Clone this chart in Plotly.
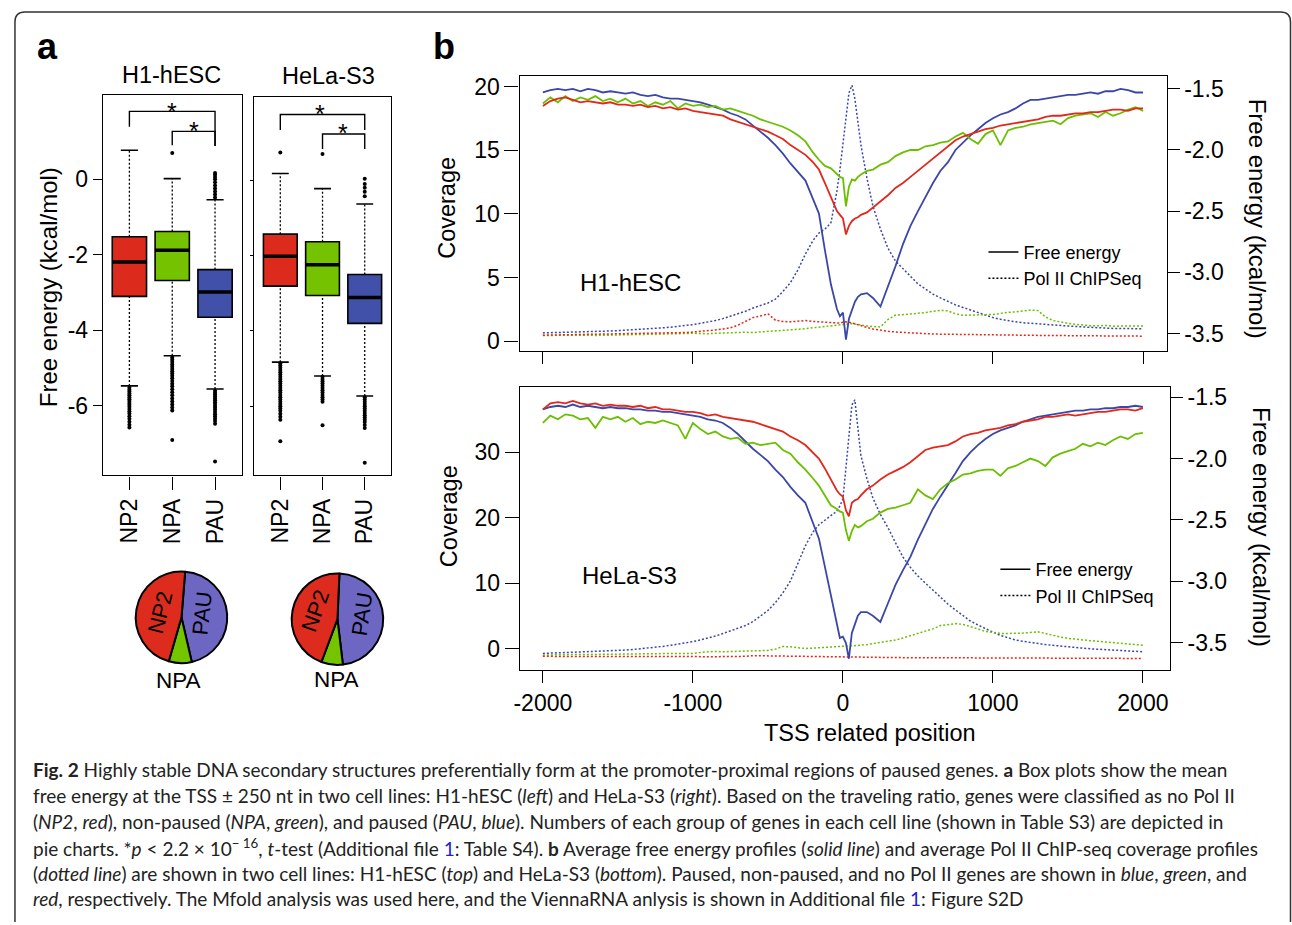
import plotly.graph_objects as go

W, H = 1292, 925
FONT = "Liberation Sans, Arial, Helvetica, sans-serif"
CAP_FONT = "Lato, Open Sans, sans-serif"

# ---------------- panel a : box plots ----------------
GROUPS = ["NP2", "NPA", "PAU"]
BOX_TICKS = [0, -2, -4, -6]
BOX_TICK_TEXT = ["0", "-2", "-4", "-6"]

H1_Q1 = [-3.10, -2.68, -3.65]
H1_MED = [-2.19, -1.88, -2.98]
H1_Q3 = [-1.52, -1.38, -2.39]
H1_WLO = [-5.47, -4.67, -5.55]
H1_WHI = [0.77, 0.02, -0.54]
H1_OUT_HI = [[], [0.70], [-0.48, -0.40, -0.32, -0.24, -0.16, -0.08, 0.00, 0.06, 0.12, 0.17]]
H1_OUT_LO = [
    [-5.52, -5.57, -5.62, -5.67, -5.72, -5.77, -5.82, -5.87, -5.92, -5.97, -6.02, -6.08, -6.14, -6.20, -6.27,
     -6.34, -6.42, -6.50, -6.57],
    [-4.72, -4.78, -4.84, -4.90, -4.96, -5.02, -5.08, -5.14, -5.20, -5.27, -5.34, -5.41, -5.48, -5.56, -5.64,
     -5.72, -5.80, -5.88, -5.96, -6.04, -6.12, -6.90],
    [-5.60, -5.65, -5.70, -5.75, -5.80, -5.85, -5.90, -5.95, -6.00, -6.05, -6.10, -6.16, -6.22, -6.28, -6.34,
     -6.40, -6.47, -7.47],
]

HELA_Q1 = [-2.81, -3.06, -3.80]
HELA_MED = [-2.02, -2.24, -3.11]
HELA_Q3 = [-1.43, -1.63, -2.50]
HELA_WLO = [-4.83, -5.20, -5.73]
HELA_WHI = [0.18, -0.22, -0.63]
HELA_OUT_HI = [[0.74], [0.70], [-0.42, -0.30, -0.20, -0.10, 0.04]]
HELA_OUT_LO = [
    [-4.86, -4.92, -4.98, -5.04, -5.10, -5.16, -5.22, -5.28, -5.34, -5.40, -5.46, -5.52, -5.58, -5.64, -5.70,
     -5.76, -5.82, -5.88, -5.94, -6.00, -6.06, -6.12, -6.20, -6.28, -6.36, -6.93],
    [-5.22, -5.28, -5.34, -5.40, -5.46, -5.52, -5.58, -5.64, -5.70, -5.76, -5.82, -5.88, -6.51],
    [-5.76, -5.82, -5.88, -5.94, -6.00, -6.06, -6.12, -6.18, -6.24, -6.30, -6.36, -6.42, -6.50, -6.58, -7.50],
]

# pie charts (percent of genes per group)
PIE_LABELS = ["PAU", "NPA", "NP2"]
H1_PIE = [45.1, 8.1, 46.8]
HELA_PIE = [47.4, 7.6, 45.0]

# ---------------- panel b : profiles ----------------
POS = [-2000, -1950, -1900, -1850, -1800, -1750, -1700, -1650, -1600, -1550,
       -1500, -1450, -1400, -1350, -1300, -1250, -1200, -1150, -1100, -1050,
       -1000, -950, -900, -850, -800, -750, -700, -650, -600, -550,
       -500, -450, -400, -350, -300,
       -250, -200, -160, -120, -80, -40, -20, 0, 20, 40, 60, 80, 100, 120, 160, 200, 250,
       300, 350, 400, 450, 500, 550, 600, 650, 700, 750, 800, 850, 900, 950,
       1000, 1050, 1100, 1150, 1200, 1250, 1300, 1350, 1400, 1450, 1500, 1550, 1600, 1650, 1700, 1750,
       1800, 1850, 1900, 1950, 2000]
POS_TICKS = [-2000, -1000, 0, 1000, 2000]
POS_TICK_TEXT = ["-2000", "-1000", "0", "1000", "2000"]
FE_TICKS = [-3.5, -3.0, -2.5, -2.0, -1.5]
FE_TICK_TEXT = ["-3.5", "-3.0", "-2.5", "-2.0", "-1.5"]
COV_TICKS_H1 = [0, 5, 10, 15, 20]
COV_TICKS_HELA = [0, 10, 20, 30]

# H1-hESC free energy (kcal/mol)
H1_FE_PAU = [-1.53, -1.51, -1.50, -1.51, -1.50, -1.52, -1.50, -1.51, -1.53, -1.52,
             -1.53, -1.54, -1.53, -1.55, -1.56, -1.55, -1.57, -1.58, -1.58, -1.59,
             -1.60, -1.61, -1.63, -1.65, -1.67, -1.70, -1.72, -1.75, -1.80, -1.85,
             -1.90, -1.96, -2.03, -2.11, -2.18,
             -2.25, -2.40, -2.52, -2.82, -3.10, -3.30, -3.36, -3.33, -3.55, -3.38, -3.30, -3.24, -3.20, -3.18,
             -3.17, -3.21, -3.28,
             -3.12, -2.95, -2.77, -2.62, -2.50, -2.38, -2.27, -2.17, -2.10, -2.00, -1.94, -1.88, -1.83, -1.78,
             -1.74, -1.71, -1.69, -1.66, -1.62, -1.59, -1.59, -1.58, -1.57, -1.56, -1.55, -1.55, -1.54, -1.53,
             -1.54, -1.52, -1.52, -1.50, -1.51, -1.53, -1.53]
H1_FE_NP2 = [-1.64, -1.60, -1.58, -1.57, -1.59, -1.61, -1.60, -1.61, -1.62, -1.61,
             -1.63, -1.63, -1.64, -1.63, -1.65, -1.64, -1.66, -1.65, -1.67, -1.66,
             -1.68, -1.69, -1.70, -1.71, -1.72, -1.75, -1.77, -1.79, -1.81, -1.83,
             -1.85, -1.88, -1.91, -1.96, -2.00,
             -2.04, -2.10, -2.16, -2.27, -2.38, -2.50, -2.53, -2.56, -2.69, -2.62, -2.58, -2.56, -2.55, -2.53,
             -2.51, -2.47, -2.42,
             -2.37, -2.31, -2.27, -2.22, -2.17, -2.12, -2.07, -2.02, -1.97, -1.92, -1.89, -1.87, -1.85, -1.83,
             -1.82, -1.80, -1.79, -1.78, -1.77, -1.76, -1.75, -1.73, -1.72, -1.72, -1.71, -1.70, -1.70, -1.69,
             -1.69, -1.68, -1.67, -1.67, -1.68, -1.66, -1.66]
H1_FE_NPA = [-1.62, -1.57, -1.61, -1.56, -1.60, -1.57, -1.59, -1.56, -1.60, -1.58,
             -1.61, -1.58, -1.62, -1.60, -1.64, -1.61, -1.63, -1.60, -1.66, -1.62,
             -1.64, -1.63, -1.65, -1.64, -1.67, -1.66, -1.68, -1.70, -1.72, -1.75,
             -1.77, -1.79, -1.81, -1.84, -1.88,
             -1.93, -2.02, -2.08, -2.13, -2.15, -2.20, -2.22, -2.23, -2.46, -2.30, -2.24, -2.25, -2.22, -2.20,
             -2.17, -2.16, -2.12,
             -2.10, -2.05, -2.02, -2.00, -2.00, -1.97, -1.96, -1.94, -1.93, -1.89, -1.86, -1.91, -1.95, -1.87,
             -1.84, -1.96, -1.84, -1.82, -1.81, -1.79, -1.78, -1.77, -1.76, -1.79, -1.74, -1.72, -1.71, -1.70,
             -1.73, -1.69, -1.72, -1.70, -1.67, -1.65, -1.68]
# H1-hESC Pol II ChIP-seq coverage
H1_COV_PAU = [0.65, 0.66, 0.68, 0.70, 0.71, 0.72, 0.74, 0.76, 0.78, 0.80,
              0.83, 0.86, 0.88, 0.90, 0.95, 1.00, 1.05, 1.10, 1.15, 1.22,
              1.30, 1.40, 1.50, 1.62, 1.77, 1.95, 2.15, 2.35, 2.60, 2.80,
              3.00, 3.30, 3.90, 4.60, 5.60,
              6.85, 7.90, 8.50, 8.80, 9.30, 11.8, 13.5, 15.4, 17.6, 19.5, 20.1, 19.0, 17.2, 15.4,
              12.8, 10.6, 8.8,
              7.3, 6.3, 5.7, 5.1, 4.5, 4.1, 3.7, 3.4, 3.1, 2.85, 2.65, 2.45, 2.2, 2.0,
              1.85, 1.72, 1.60, 1.52, 1.45, 1.40, 1.38, 1.35, 1.30, 1.25, 1.20, 1.15, 1.12, 1.08,
              1.05, 1.03, 1.00, 1.00, 0.98, 0.97, 0.97]
H1_COV_NP2 = [0.47, 0.48, 0.49, 0.50, 0.52, 0.50, 0.52, 0.53, 0.52, 0.55,
              0.56, 0.55, 0.57, 0.58, 0.60, 0.60, 0.62, 0.64, 0.66, 0.68,
              0.72, 0.76, 0.80, 0.88, 0.95, 1.05, 1.25, 1.55, 1.85, 1.98,
              2.15, 1.65, 1.55, 1.52, 1.58,
              1.62, 1.55, 1.52, 1.48, 1.42, 1.38, 1.42, 1.48, 1.52, 1.50, 1.42, 1.35, 1.28, 1.20,
              1.08, 0.95, 0.85,
              0.78, 0.72, 0.68, 0.63, 0.60, 0.58, 0.56, 0.55, 0.54, 0.52, 0.52, 0.50, 0.50, 0.49,
              0.48, 0.48, 0.47, 0.47, 0.46, 0.46, 0.45, 0.45, 0.44, 0.44, 0.43, 0.43, 0.45, 0.42,
              0.42, 0.41, 0.41, 0.41, 0.40, 0.40, 0.39]
H1_COV_NPA = [0.45, 0.46, 0.44, 0.47, 0.46, 0.48, 0.47, 0.45, 0.48, 0.50,
              0.49, 0.51, 0.50, 0.52, 0.54, 0.53, 0.56, 0.58, 0.57, 0.60,
              0.62, 0.60, 0.58, 0.62, 0.65, 0.63, 0.66, 0.70, 0.68, 0.72,
              0.75, 0.80, 0.84, 0.88, 0.92,
              0.98, 1.05, 1.10, 1.14, 1.18, 1.22, 1.25, 1.28, 1.32, 1.36, 1.38, 1.35, 1.30, 1.26,
              1.20, 1.15, 1.12,
              1.70, 2.05, 2.08, 2.12, 2.16, 2.25, 2.35, 2.42, 2.38, 2.15, 2.03, 2.05, 2.02, 2.04,
              2.10, 2.18, 2.27, 2.30, 2.35, 2.45, 2.40, 1.90, 1.62, 1.50, 1.40, 1.32, 1.25, 1.22,
              1.20, 1.24, 1.18, 1.20, 1.22, 1.19, 1.20]

# HeLa-S3 free energy (kcal/mol)
HELA_FE_PAU = [-1.60, -1.58, -1.57, -1.58, -1.56, -1.58, -1.57, -1.58, -1.59, -1.58,
               -1.59, -1.59, -1.60, -1.60, -1.61, -1.61, -1.62, -1.62, -1.63, -1.64,
               -1.65, -1.66, -1.68, -1.69, -1.71, -1.75, -1.80, -1.86, -1.92, -1.97,
               -2.02, -2.09, -2.15, -2.23, -2.30,
               -2.36, -2.52, -2.65, -2.88, -3.12, -3.36, -3.46, -3.45, -3.50, -3.63, -3.42, -3.35, -3.28, -3.25,
               -3.25, -3.28, -3.33,
               -3.18, -3.03, -2.91, -2.80, -2.66, -2.53, -2.41, -2.31, -2.22, -2.12, -2.02, -1.95, -1.89, -1.84,
               -1.80, -1.77, -1.75, -1.73, -1.70, -1.68, -1.66, -1.65, -1.64, -1.63, -1.62, -1.61, -1.61, -1.60,
               -1.60, -1.59, -1.59, -1.58, -1.58, -1.57, -1.58]
HELA_FE_NP2 = [-1.60, -1.55, -1.54, -1.55, -1.53, -1.55, -1.56, -1.55, -1.57, -1.56,
               -1.57, -1.57, -1.58, -1.57, -1.59, -1.58, -1.60, -1.60, -1.61, -1.62,
               -1.62, -1.63, -1.65, -1.64, -1.66, -1.67, -1.68, -1.69, -1.70, -1.72,
               -1.74, -1.76, -1.78, -1.82, -1.85,
               -1.89, -1.95, -2.00, -2.08, -2.17, -2.26, -2.29, -2.31, -2.42, -2.47, -2.36, -2.34, -2.33, -2.30,
               -2.25, -2.22, -2.17,
               -2.13, -2.10, -2.07, -2.03, -1.98, -1.93, -1.91, -1.90, -1.89, -1.86, -1.82, -1.80, -1.79, -1.77,
               -1.76, -1.75, -1.73, -1.72, -1.70, -1.69, -1.68, -1.66, -1.66, -1.65, -1.64, -1.65, -1.64, -1.63,
               -1.62, -1.62, -1.61, -1.60, -1.60, -1.61, -1.59]
HELA_FE_NPA = [-1.71, -1.65, -1.68, -1.64, -1.65, -1.68, -1.67, -1.75, -1.66, -1.68,
               -1.66, -1.70, -1.67, -1.72, -1.70, -1.71, -1.69, -1.71, -1.73, -1.84,
               -1.71, -1.76, -1.80, -1.78, -1.82, -1.84, -1.83, -1.88, -1.87, -1.89,
               -1.88, -1.87, -1.93, -1.96, -2.03,
               -2.09, -2.16, -2.22, -2.30, -2.38, -2.41, -2.43, -2.44, -2.58, -2.67, -2.59, -2.54, -2.56, -2.55,
               -2.51, -2.49, -2.44,
               -2.41, -2.40, -2.38, -2.36, -2.25, -2.30, -2.33, -2.25, -2.20, -2.17, -2.13, -2.12, -2.10, -2.09,
               -2.09, -2.14, -2.08, -2.06, -2.03, -2.00, -2.02, -2.06, -1.99, -1.96, -1.94, -1.92, -1.88, -1.90,
               -1.87, -1.89, -1.85, -1.82, -1.84, -1.80, -1.79]
# HeLa-S3 Pol II ChIP-seq coverage
HELA_COV_PAU = [-0.76, -0.72, -0.70, -0.66, -0.62, -0.58, -0.54, -0.48, -0.42, -0.36,
                -0.30, -0.24, -0.16, -0.06, 0.05, 0.18, 0.32, 0.48, 0.65, 0.82,
                1.05, 1.30, 1.58, 1.90, 2.28, 2.70, 3.00, 3.50, 4.10, 4.90,
                5.80, 7.00, 8.50, 10.3, 13.0,
                15.7, 17.8, 18.9, 19.6, 20.3, 21.0, 21.8, 22.8, 27.5, 32.8, 37.2, 38.0, 33.5, 29.5,
                26.0, 23.0, 20.5,
                18.5, 16.2, 14.0, 12.4, 11.1, 10.0, 8.9, 7.8, 6.8, 5.9, 5.0, 4.2, 3.6, 3.0,
                2.5, 2.0, 1.6, 1.3, 1.1, 0.9, 0.75, 0.6, 0.48, 0.35, 0.25, 0.15, 0.05, -0.05,
                -0.12, -0.20, -0.28, -0.35, -0.40, -0.45, -0.50]
HELA_COV_NP2 = [-1.20, -1.22, -1.20, -1.21, -1.22, -1.20, -1.22, -1.23, -1.21, -1.22,
                -1.23, -1.22, -1.24, -1.22, -1.23, -1.25, -1.24, -1.23, -1.25, -1.24,
                -1.25, -1.24, -1.26, -1.25, -1.24, -1.26, -1.25, -1.20, -1.10, -1.12,
                -1.15, -1.18, -1.20, -1.22, -1.24,
                -1.25, -1.26, -1.27, -1.28, -1.28, -1.29, -1.30, -1.30, -1.31, -1.32, -1.32, -1.33, -1.34, -1.34,
                -1.35, -1.36, -1.37,
                -1.38, -1.39, -1.40, -1.40, -1.41, -1.42, -1.42, -1.43, -1.43, -1.44, -1.44, -1.45, -1.45, -1.46,
                -1.46, -1.46, -1.47, -1.47, -1.47, -1.48, -1.48, -1.48, -1.49, -1.49, -1.49, -1.50, -1.50, -1.50,
                -1.50, -1.51, -1.51, -1.51, -1.52, -1.52, -1.52]
HELA_COV_NPA = [-1.00, -0.95, -1.00, -0.95, -0.92, -0.95, -0.90, -0.92, -0.88, -0.90,
                -0.85, -0.88, -0.85, -0.82, -0.85, -0.80, -0.78, -0.80, -0.76, -0.75,
                -0.76, -0.60, -0.50, -0.45, -0.50, -0.48, -0.40, -0.42, -0.35, -0.40,
                -0.30, -0.10, 0.30, 0.25, 0.10,
                0.00, 0.05, 0.10, 0.15, 0.20, 0.25, 0.25, 0.30, 0.32, 0.35, 0.35, 0.40, 0.45, 0.50,
                0.60, 0.75, 0.95,
                1.05, 1.30, 1.60, 1.95, 2.28, 2.60, 3.00, 3.50, 3.60, 3.80, 3.70, 3.40, 3.00, 2.60,
                2.40, 2.30, 2.30, 2.28, 2.35, 2.45, 2.55, 2.30, 2.00, 1.75, 1.55, 1.40, 1.30, 1.20,
                1.10, 1.00, 0.90, 0.75, 0.60, 0.55, 0.50]

# ---------------- helpers / styles ----------------
def px(x):
    return x / W


def py(y):
    return 1 - y / H


BOX_FILL = {"NP2": "#DC2B1D", "NPA": "#75C200", "PAU": "#4150A9"}
LINE_COL = {"NP2": "#E2271B", "NPA": "#6CBF00", "PAU": "#3B47A8"}
PIE_COL = {"NP2": "#DD2C1E", "NPA": "#74C400", "PAU": "#6D67C3"}

fig = go.Figure()


def box_panel(q1, med, q3, wlo, whi, out_lo, out_hi, xa, ya):
    for i, g in enumerate(GROUPS):
        fig.add_trace(go.Box(
            x=[i + 1], q1=[q1[i]], median=[med[i]], q3=[q3[i]],
            lowerfence=[q1[i]], upperfence=[q3[i]], orientation="v", width=0.8,
            fillcolor=BOX_FILL[g], line=dict(color="black", width=1.6), whiskerwidth=0,
            boxpoints=False, xaxis=xa, yaxis=ya, showlegend=False, hoverinfo="skip"))
    wx, wy, cx, cy, mx, my, ox, oy = [], [], [], [], [], [], [], []
    for i in range(len(GROUPS)):
        c = i + 1
        wx += [c, c, None, c, c, None]
        wy += [q3[i], whi[i], None, wlo[i], q1[i], None]
        for v in (whi[i], wlo[i]):
            cx += [c - 0.2, c + 0.2, None]
            cy += [v, v, None]
        mx += [c - 0.4, c + 0.4, None]
        my += [med[i], med[i], None]
        for v in out_lo[i] + out_hi[i]:
            ox.append(c)
            oy.append(v)
    fig.add_trace(go.Scatter(x=wx, y=wy, mode="lines", xaxis=xa, yaxis=ya, showlegend=False,
                             hoverinfo="skip", line=dict(color="black", width=1.3, dash="2px,2px")))
    fig.add_trace(go.Scatter(x=cx, y=cy, mode="lines", xaxis=xa, yaxis=ya, showlegend=False,
                             hoverinfo="skip", line=dict(color="black", width=1.6)))
    fig.add_trace(go.Scatter(x=mx, y=my, mode="lines", xaxis=xa, yaxis=ya, showlegend=False,
                             hoverinfo="skip", line=dict(color="black", width=3.5)))
    fig.add_trace(go.Scatter(x=ox, y=oy, mode="markers", xaxis=xa, yaxis=ya, showlegend=False,
                             hoverinfo="skip", marker=dict(color="black", size=4)))


box_panel(H1_Q1, H1_MED, H1_Q3, H1_WLO, H1_WHI, H1_OUT_LO, H1_OUT_HI, "x", "y")
box_panel(HELA_Q1, HELA_MED, HELA_Q3, HELA_WLO, HELA_WHI, HELA_OUT_LO, HELA_OUT_HI, "x2", "y2")

# significance brackets (x_left, x_right, y_top, y_left_end, y_right_end)
BRACKETS = {
    ("x", "y"): [(1, 3, 1.80, 1.39, 0.88), (2, 3, 1.27, 0.90, 0.88)],
    ("x2", "y2"): [(1, 3, 1.75, 1.34, 1.34), (2, 3, 1.23, 0.83, 0.83)],
}
STARS = {
    ("x", "y"): [(2.0, 1.99), (2.5, 1.49)],
    ("x2", "y2"): [(1.95, 1.96), (2.48, 1.45)],
}
annotations = []
for (xa, ya), brs in BRACKETS.items():
    bx, by = [], []
    for (a, b, top, ea, eb) in brs:
        bx += [a, a, b, b, None]
        by += [ea, top, top, eb, None]
    fig.add_trace(go.Scatter(x=bx, y=by, mode="lines", xaxis=xa, yaxis=ya, showlegend=False,
                             hoverinfo="skip", line=dict(color="black", width=1.4)))
    for (sx, sy) in STARS[(xa, ya)]:
        annotations.append(dict(x=sx, y=sy - 0.2, xref=xa, yref=ya, text="*", showarrow=False,
                                font=dict(family=FONT, size=25, color="black"),
                                xanchor="center", yanchor="middle"))

# pies
for vals, rot, dom in [(H1_PIE, 4.6, (130.3, 222.3, 572.7, 664.7)),
                       (HELA_PIE, 2.5, (287.0, 379.0, 574.5, 666.5))]:
    fig.add_trace(go.Pie(values=vals, labels=PIE_LABELS, sort=False, direction="clockwise",
                         rotation=rot, textinfo="none", hoverinfo="skip", showlegend=False,
                         marker=dict(colors=[PIE_COL[l] for l in PIE_LABELS],
                                     line=dict(color="black", width=2)),
                         domain=dict(x=[px(dom[0]), px(dom[1])], y=[py(dom[3]), py(dom[2])])))

# profile lines
PANELS = [
    ("x3", "y3", "y4", {"PAU": H1_FE_PAU, "NPA": H1_FE_NPA, "NP2": H1_FE_NP2},
     {"PAU": H1_COV_PAU, "NPA": H1_COV_NPA, "NP2": H1_COV_NP2}),
    ("x4", "y5", "y6", {"PAU": HELA_FE_PAU, "NPA": HELA_FE_NPA, "NP2": HELA_FE_NP2},
     {"PAU": HELA_COV_PAU, "NPA": HELA_COV_NPA, "NP2": HELA_COV_NP2}),
]
for xa, ycov, yfe, fe, cov in PANELS:
    for g in ["PAU", "NPA", "NP2"]:
        fig.add_trace(go.Scatter(x=POS, y=cov[g], mode="lines", xaxis=xa, yaxis=ycov,
                                 showlegend=False, hoverinfo="skip",
                                 line=dict(color=LINE_COL[g], width=1.5, dash="2px,2px")))
    for g in ["PAU", "NPA", "NP2"]:
        fig.add_trace(go.Scatter(x=POS, y=fe[g], mode="lines", xaxis=xa, yaxis=yfe,
                                 showlegend=False, hoverinfo="skip",
                                 line=dict(color=LINE_COL[g], width=1.8)))

# legend entries (black line samples)
for leg in ["legend", "legend2"]:
    xa = "x3" if leg == "legend" else "x4"
    ya = "y3" if leg == "legend" else "y5"
    fig.add_trace(go.Scatter(x=[None], y=[None], mode="lines", name="Free energy", legend=leg,
                             xaxis=xa, yaxis=ya, line=dict(color="black", width=1.5)))
    fig.add_trace(go.Scatter(x=[None], y=[None], mode="lines", name="Pol II ChIPSeq", legend=leg,
                             xaxis=xa, yaxis=ya, line=dict(color="black", width=1.5, dash="2px,2px")))

# ---------------- axes ----------------
tickfont = dict(family=FONT, size=23, color="black")
common = dict(showline=True, linecolor="black", linewidth=1.3, mirror=True, ticks="outside",
              tickcolor="black", tickwidth=1.3, showgrid=False, zeroline=False, tickfont=tickfont)

layout_axes = dict(
    xaxis=dict(common, domain=[px(97.3), px(236.7)], range=[0.38, 3.62], tickvals=[1, 2, 3],
               ticktext=GROUPS, tickangle=-90, ticklen=13, anchor="y"),
    yaxis=dict(common, domain=[py(476), py(94)], range=[-7.84, 2.22], tickvals=BOX_TICKS,
               ticktext=BOX_TICK_TEXT, ticklen=9, anchor="x"),
    xaxis2=dict(common, domain=[px(249.3), px(386.7)], range=[0.38, 3.62], tickvals=[1, 2, 3],
                ticktext=GROUPS, tickangle=-90, ticklen=13, anchor="y2"),
    yaxis2=dict(common, domain=[py(476), py(95.3)], range=[-7.84, 2.22], tickvals=BOX_TICKS,
                showticklabels=False, ticklen=3, anchor="x2"),
    xaxis3=dict(common, domain=[px(516), px(1166)], range=[-2155, 2157], tickvals=POS_TICKS,
                showticklabels=False, ticklen=12, anchor="y3"),
    yaxis3=dict(common, domain=[py(351), py(74)], range=[-0.78, 20.86], tickvals=COV_TICKS_H1,
                ticklen=14, anchor="x3"),
    yaxis4=dict(common, overlaying="y3", side="right", anchor="x3", range=[-3.644, -1.392],
                tickvals=FE_TICKS, ticktext=FE_TICK_TEXT, ticklen=12, showline=False),
    xaxis4=dict(common, domain=[px(516.3), px(1169.3)], range=[-2153, 2180], tickvals=POS_TICKS,
                ticktext=POS_TICK_TEXT, ticklen=12, anchor="y5"),
    yaxis5=dict(common, domain=[py(671.7), py(386.7)], range=[-3.3, 40.03], tickvals=COV_TICKS_HELA,
                ticklen=14, anchor="x4"),
    yaxis6=dict(common, overlaying="y5", side="right", anchor="x4", range=[-3.722, -1.414],
                tickvals=FE_TICKS, ticktext=FE_TICK_TEXT, ticklen=12, showline=False),
)


def txt(text, x, y, size=23, angle=0, bold=False, xanchor="center", family=FONT, color="black"):
    annotations.append(dict(x=px(x), y=py(y), xref="paper", yref="paper", showarrow=False,
                            text=f"<b>{text}</b>" if bold else text, textangle=angle,
                            xanchor=xanchor, yanchor="middle",
                            font=dict(family=family, size=size, color=color)))


txt("a", 42, 45, size=36, bold=True)
txt("b", 440, 45, size=36, bold=True)
txt("H1-hESC", 166.5, 73, size=23.5)
txt("HeLa-S3", 323.7, 74, size=23.5)
txt("Free energy (kcal/mol)", 43, 287, size=24, angle=-90)
txt("NP2", 155, 614, size=22, angle=-76)
txt("PAU", 197.3, 614, size=22, angle=-84)
txt("NP2", 311, 612, size=22, angle=-70)
txt("PAU", 358, 615, size=22, angle=-82)
txt("NPA", 173.3, 682, size=22.5)
txt("NPA", 331.7, 681, size=22.5)
txt("Coverage", 443, 207, size=23.5, angle=-90)
txt("Coverage", 445, 517, size=23.5, angle=-90)
txt("Free energy (kcal/mol)", 1257, 218, size=24, angle=90)
txt("Free energy (kcal/mol)", 1262, 528, size=24, angle=90)
txt("TSS related position", 868, 735, size=23.5)
txt("H1-hESC", 627, 282, size=24)
txt("HeLa-S3", 626, 577, size=24)

LINK = "<span style='color:#2020d0'>1</span>"
CAPTION = [
    "<b>Fig. 2</b> Highly stable DNA secondary structures preferentially form at the promoter-proximal "
    "regions of paused genes. <b>a</b> Box plots show the mean",
    "free energy at the TSS ± 250 nt in two cell lines: H1-hESC (<i>left</i>) and HeLa-S3 (<i>right</i>). "
    "Based on the traveling ratio, genes were classified as no Pol II",
    "(<i>NP2</i>, <i>red</i>), non-paused (<i>NPA</i>, <i>green</i>), and paused (<i>PAU</i>, <i>blue</i>). "
    "Numbers of each group of genes in each cell line (shown in Table S3) are depicted in",
    "pie charts. *<i>p</i> &lt; 2.2 × 10<sup>− 16</sup>, <i>t</i>-test (Additional file " + LINK +
    ": Table S4). <b>b</b> Average free energy profiles (<i>solid line</i>) and average Pol II ChIP-seq "
    "coverage profiles",
    "(<i>dotted line</i>) are shown in two cell lines: H1-hESC (<i>top</i>) and HeLa-S3 (<i>bottom</i>). "
    "Paused, non-paused, and no Pol II genes are shown in <i>blue</i>, <i>green</i>, and",
    "<i>red</i>, respectively. The Mfold analysis was used here, and the ViennaRNA anlysis is shown in "
    "Additional file " + LINK + ": Figure S2D",
]
CAP_Y = [772, 797.5, 824, 850, 876, 901.5]
for line, yy in zip(CAPTION, CAP_Y):
    txt(line, 25, yy, size=19, xanchor="left", family=CAP_FONT, color="#222222")

# outer rounded frame
x0, x1, yt = px(9), px(1290.5), py(10)
rx, ry = 10 / W, 10 / H
frame_path = (f"M {x0},0 L {x0},{yt - ry} Q {x0},{yt} {x0 + rx},{yt} L {x1 - rx},{yt} "
              f"Q {x1},{yt} {x1},{yt - ry} L {x1},0")

fig.update_layout(
    width=W, height=H, autosize=False,
    margin=dict(l=0, r=0, t=0, b=0),
    paper_bgcolor="white", plot_bgcolor="white",
    boxmode="overlay",
    font=dict(family=FONT, color="black"),
    annotations=annotations,
    shapes=[dict(type="path", path=frame_path, xref="paper", yref="paper",
                 line=dict(color="#333333", width=1.5))],
    legend=dict(x=px(982), y=py(233), xanchor="left", yanchor="top", bgcolor="rgba(0,0,0,0)",
                font=dict(family=FONT, size=18, color="black"), tracegroupgap=0),
    legend2=dict(x=px(994), y=py(552), xanchor="left", yanchor="top", bgcolor="rgba(0,0,0,0)",
                 font=dict(family=FONT, size=18, color="black"), tracegroupgap=0),
    **layout_axes,
)

fig.write_html("out.html", config={"displayModeBar": False},
               post_script="document.body.style.margin='0px';")
